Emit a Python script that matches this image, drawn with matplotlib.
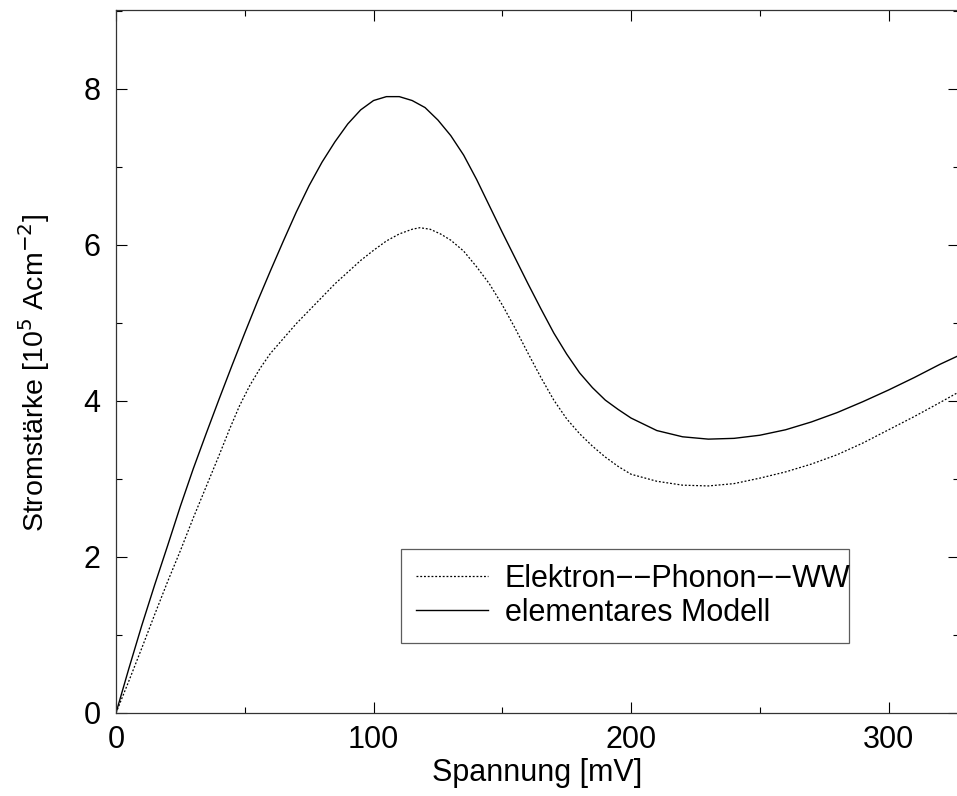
import matplotlib
matplotlib.use("Agg")
import matplotlib.pyplot as plt
from matplotlib.ticker import MultipleLocator

plt.rcParams['font.family'] = ['Liberation Sans', 'DejaVu Sans']

# elementares Modell (solid)
x_elem = [0, 5, 10, 15, 20, 25, 30, 35, 40, 45, 50, 55, 60, 65, 70, 75, 80,
          85, 90, 95, 100, 105, 110, 115, 120, 125, 130, 135, 140, 145, 150,
          155, 160, 165, 170, 175, 180, 185, 190, 195, 200, 210, 220, 230,
          240, 250, 260, 270, 280, 290, 300, 310, 320, 326.5]
y_elem = [0, 0.57, 1.12, 1.64, 2.14, 2.65, 3.13, 3.58, 4.02, 4.45, 4.87,
          5.28, 5.67, 6.05, 6.42, 6.76, 7.06, 7.32, 7.55, 7.73, 7.85, 7.9,
          7.9, 7.85, 7.76, 7.6, 7.4, 7.15, 6.84, 6.5, 6.16, 5.83, 5.5,
          5.18, 4.87, 4.6, 4.36, 4.17, 4.01, 3.89, 3.78, 3.62, 3.54, 3.51,
          3.52, 3.56, 3.63, 3.73, 3.85, 3.99, 4.14, 4.3, 4.47, 4.57]

# Elektron--Phonon--WW (dotted)
x_ep = [0, 5, 10, 15, 20, 25, 30, 35, 40, 44, 48, 52, 56, 60, 65, 70, 75, 80,
        85, 90, 95, 100, 105, 110, 115, 118, 122, 126, 130, 135, 140, 145,
        150, 155, 160, 165, 170, 175, 180, 185, 190, 195, 200, 210, 220, 230,
        240, 250, 260, 270, 280, 290, 300, 310, 320, 326.5]
y_ep = [0, 0.41, 0.83, 1.26, 1.68, 2.08, 2.5, 2.9, 3.3, 3.63, 3.94, 4.2,
        4.42, 4.61, 4.8, 4.99, 5.16, 5.33, 5.5, 5.65, 5.8, 5.93, 6.05, 6.14,
        6.2, 6.22, 6.2, 6.14, 6.06, 5.92, 5.72, 5.5, 5.23, 4.93, 4.61, 4.3,
        4.01, 3.77, 3.58, 3.42, 3.28, 3.16, 3.06, 2.97, 2.92, 2.91, 2.94,
        3.01, 3.09, 3.19, 3.31, 3.46, 3.63, 3.8, 3.98, 4.1]

fig = plt.figure(figsize=(9.57, 7.96), dpi=100)
ax = fig.add_axes([0.1212, 0.1043, 0.8808, 0.8831])

ax.plot(x_ep, y_ep, color='black', lw=0.9, linestyle=(0, (1.5, 1.5)),
        label='Elektron−−Phonon−−WW')
ax.plot(x_elem, y_elem, color='black', lw=1.0, label='elementares Modell')

ax.set_xlim(0, 327.3)
ax.set_ylim(0, 9.01)
ax.xaxis.set_major_locator(MultipleLocator(100))
ax.xaxis.set_minor_locator(MultipleLocator(50))
ax.yaxis.set_major_locator(MultipleLocator(2))
ax.yaxis.set_minor_locator(MultipleLocator(1))
ax.tick_params(which='both', direction='in', top=True, right=True,
               labelsize=22, width=0.8)
ax.tick_params(which='major', length=8)
ax.tick_params(which='minor', length=4)
ax.tick_params(axis='y', pad=11)
ax.tick_params(axis='x', pad=9)
for s in ax.spines.values():
    s.set_linewidth(0.9)
    s.set_color('#333333')

ax.set_xlabel('Spannung [mV]', fontsize=22, labelpad=2)
ax.set_ylabel('Stromstärke [10$^5$ Acm$^{-2}$]', fontsize=20.5, labelpad=2)
ax.yaxis.set_label_coords(-0.076, 0.484)

leg = ax.legend(loc='lower left', bbox_to_anchor=(0.338, 0.0996, 0.532, 0.135),
                mode='expand', borderaxespad=0, fontsize=22, frameon=True,
                fancybox=False, handlelength=2.35, handletextpad=0.55,
                labelspacing=0.12, borderpad=0.5)
leg.get_frame().set_edgecolor('#333333')
leg.get_frame().set_linewidth(0.9)

fig.savefig('out.png', dpi=100)
